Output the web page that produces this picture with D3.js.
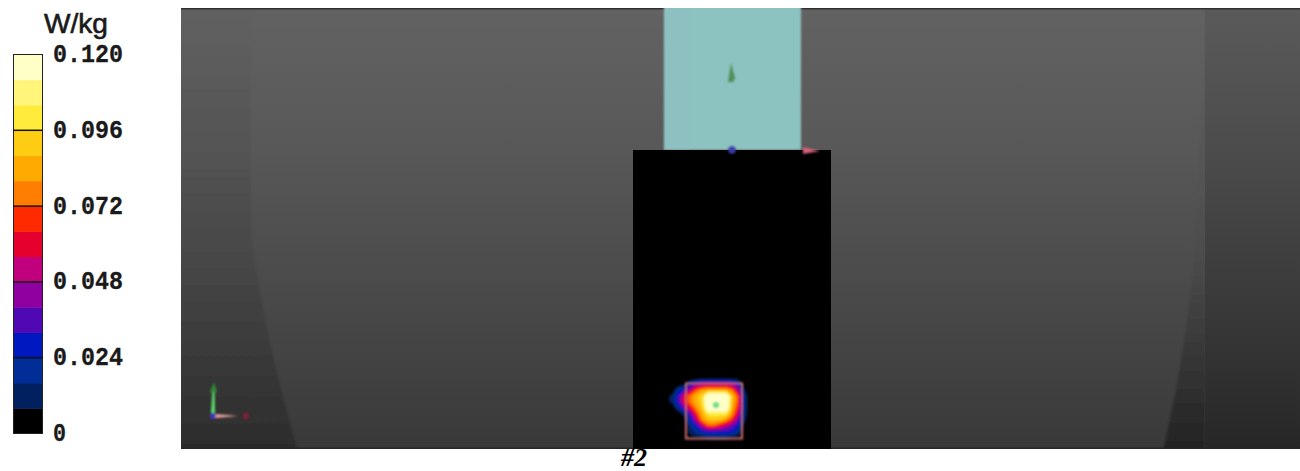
<!DOCTYPE html>
<html><head><meta charset="utf-8">
<script src="https://cdn.jsdelivr.net/npm/d3@7"></script>
<style>html,body{margin:0;padding:0;background:#fff;overflow:hidden}svg{display:block}</style></head>
<body><div id="c"></div>
<script>
const legendColors = ["#000000","#002060","#002d96","#0018c0","#5008b4","#8f00a0","#c0007d","#e6002d","#ff2a00","#ff7d00","#ffaa00","#ffcc14","#ffeb3c","#fff57a","#ffffc8"];
const tickValues = [0,0.024,0.048,0.072,0.096,0.120];
const tickLabels = ["0","0.024","0.048","0.072","0.096","0.120"];
const unitLabel = "W/kg";
const captionLabel = "#2";
const fieldXs = [672,678,684,690,696,702,708,714,720,726,732,738,744,750];
const fieldYs = [378,384,390,396,402,408,414,420,426,432,438,444];
const fieldValues = [
 [0,0,0,0,.002,.004,.004,.004,.004,.004,.004,.002,0,0],
 [0,.002,.006,.025,.04,.045,.05,.05,.05,.05,.045,.03,.004,0],
 [.002,.02,.03,.05,.07,.082,.085,.085,.085,.085,.075,.05,.01,0],
 [.01,.032,.06,.075,.085,.095,.13,.13,.13,.13,.09,.07,.018,0],
 [.01,.032,.06,.075,.085,.095,.13,.13,.13,.13,.09,.07,.018,0],
 [.002,.018,.04,.06,.078,.09,.13,.13,.13,.13,.085,.065,.018,0],
 [0,.002,.012,.035,.065,.085,.1,.1,.1,.1,.08,.055,.016,0],
 [0,0,.004,.024,.05,.078,.088,.09,.088,.08,.065,.04,.012,0],
 [0,0,0,.016,.028,.05,.07,.07,.06,.05,.04,.028,.006,0],
 [0,0,0,.012,.018,.024,.03,.03,.03,.03,.026,.016,.003,0],
 [0,0,0,.004,.006,.008,.01,.01,.01,.01,.008,.006,0,0],
 [0,0,0,0,0,0,0,0,0,0,0,0,0,0]
];
const W=1300,H=471;
const svg=d3.select("#c").append("svg").attr("width",W).attr("height",H);
const defs=svg.append("defs");
function grad(id,stops){const g=defs.append("linearGradient").attr("id",id).attr("gradientUnits","userSpaceOnUse").attr("x1",0).attr("y1",8).attr("x2",0).attr("y2",449);
 stops.forEach(s=>g.append("stop").attr("offset",s[0]).attr("stop-color",s[1]));}
grad("mid",[[0,"#626262"],[.32,"#585858"],[.66,"#494949"],[1,"#393939"]]);
grad("edgeL",[[0,"#616161"],[.2,"#595959"],[.32,"#545454"],[.66,"#424242"],[1,"#2c2c2c"]]);
grad("edgeR",[[0,"#5a5a5a"],[.32,"#4c4c4c"],[.66,"#3a3a3a"],[1,"#272727"]]);
grad("curveR",[[0,"#626262"],[.55,"#4d4d4d"],[1,"#232323"]]);
function blur(id,sd){const f=defs.append("filter").attr("id",id).attr("x","-30%").attr("y","-30%").attr("width","160%").attr("height","160%");
 f.append("feGaussianBlur").attr("stdDeviation",sd);}
blur("b",.8);blur("b2",.8);blur("b3",1.2);

const sx=181,sy=8,sw=1119,sh=441;
defs.append("clipPath").attr("id","sc").append("rect").attr("x",sx).attr("y",sy).attr("width",sw).attr("height",sh);
const scene=svg.append("g").attr("clip-path","url(#sc)");
scene.append("rect").attr("x",sx).attr("y",sy).attr("width",sw).attr("height",sh).attr("fill","url(#mid)");
scene.append("path").attr("d","M170,0H251V235C265,330 282,400 301,460H170Z").attr("fill","url(#edgeL)").attr("filter","url(#b3)");
scene.append("path").attr("d","M1205,0V460H1161C1175,400 1186,340 1192,280C1195,200 1205,100 1205,0Z").attr("fill","url(#curveR)").attr("filter","url(#b3)");
scene.append("path").attr("d","M1205,0H1310V460H1205Z").attr("fill","url(#edgeR)");
scene.append("rect").attr("x",sx).attr("y",sy).attr("width",sw).attr("height",1.5).attr("fill","#303030");
scene.append("rect").attr("x",sx).attr("y",447.5).attr("width",sw).attr("height",1.5).attr("fill","#262626");
scene.append("rect").attr("x",664).attr("y",5).attr("width",137).attr("height",145).attr("fill","#8cc2bf").attr("filter","url(#b2)");
scene.append("rect").attr("x",665).attr("y",5).attr("width",25).attr("height",145).attr("fill","#91bfc6").attr("opacity",.5).attr("filter","url(#b3)");
scene.append("rect").attr("x",633).attr("y",150).attr("width",198).attr("height",299).attr("fill","#000");
scene.append("line").attr("x1",732).attr("x2",732).attr("y1",78).attr("y2",148).attr("stroke","#74cf98").attr("stroke-width",2.2).attr("filter","url(#b2)");
scene.append("path").attr("d","M731,63L735,78L733,82H728Z").attr("fill","#4e8f55").attr("filter","url(#b2)");
scene.append("circle").attr("cx",732).attr("cy",150).attr("r",3.8).attr("fill","#3a3aa8").attr("filter","url(#b2)");
scene.append("path").attr("d","M803,147L820,151L803,154Z").attr("fill","#d8607a").attr("filter","url(#b2)");

const thresholds=d3.range(1,15).map(i=>i*0.008);
const color=d3.scaleThreshold().domain(thresholds).range(legendColors);
const fx=d3.scaleLinear().domain([0,fieldXs.length-1]).range([fieldXs[0],fieldXs[fieldXs.length-1]]);
const fy=d3.scaleLinear().domain([0,fieldYs.length-1]).range([fieldYs[0],fieldYs[fieldYs.length-1]]);
const contours=d3.contours().size([fieldXs.length,fieldYs.length]).smooth(true).thresholds(thresholds)(fieldValues.flat());
const proj=d3.geoTransform({point(x,y){this.stream.point(fx(x-.5),fy(y-.5));}});
scene.append("g").attr("filter","url(#b)").selectAll("path").data(contours).join("path")
 .attr("d",d3.geoPath(proj)).attr("fill",d=>color(d.value));
scene.append("rect").attr("x",686).attr("y",383.5).attr("width",56).attr("height",55).attr("fill","none").attr("stroke","#d0706c").attr("stroke-width",2).attr("filter","url(#b2)");
scene.append("circle").attr("cx",716).attr("cy",405).attr("r",3).attr("fill","#6fdc8c").attr("filter","url(#b2)");

const tri=scene.append("g").attr("filter","url(#b2)");
tri.append("path").attr("d","M211,413L215,413L214.5,390L212.5,390Z").attr("fill","#58e06a");
tri.append("path").attr("d","M214,382L210,392H217Z").attr("fill","#2f8a35");
tri.append("path").attr("d","M215,414L238,416L215,418Z").attr("fill","#f0a0a0");
tri.append("circle").attr("cx",213).attr("cy",416).attr("r",2.8).attr("fill","#3a3ad0");
tri.append("circle").attr("cx",246).attr("cy",416).attr("r",3.2).attr("fill","#7a2035");

const y=d3.scaleLinear().domain([0,0.12]).range([433.5,54.5]);
const lg=svg.append("g");
lg.selectAll("rect").data(legendColors).join("rect")
 .attr("x",13).attr("width",30).attr("y",(d,i)=>y((i+1)*0.008)).attr("height",(d,i)=>y(i*0.008)-y((i+1)*0.008)+.5).attr("fill",d=>d);
lg.append("rect").attr("x",13.5).attr("y",54.5).attr("width",29).attr("height",379).attr("fill","none").attr("stroke","#222").attr("stroke-width",1);
lg.selectAll("line").data(tickValues.slice(1,5)).join("line").attr("x1",13).attr("x2",43).attr("y1",d=>y(d)).attr("y2",d=>y(d)).attr("stroke","#111").attr("stroke-width",1.5);
lg.selectAll("text.t").data(tickValues).join("text").attr("class","t").attr("x",53)
 .attr("y",d=>y(d)+7.5).attr("font-family","'Liberation Mono'").attr("font-weight","bold").attr("font-size",26).attr("textLength",(d,i)=>i===0?13:70).attr("lengthAdjust","spacingAndGlyphs").attr("fill","#1a1a1a").attr("stroke","#1a1a1a").attr("stroke-width",.3).text((d,i)=>tickLabels[i]);
svg.append("text").attr("x",44).attr("y",33).attr("font-family","'Liberation Sans'").attr("font-size",27).attr("textLength",64).attr("lengthAdjust","spacingAndGlyphs").attr("fill","#1a1a1a").attr("stroke","#1a1a1a").attr("stroke-width",.6).text(unitLabel);
svg.append("text").attr("x",621).attr("y",466).attr("font-family","'Liberation Serif'").attr("font-weight","bold").attr("font-style","italic").attr("font-size",26).attr("fill","#000").text(captionLabel);
</script></body></html>
